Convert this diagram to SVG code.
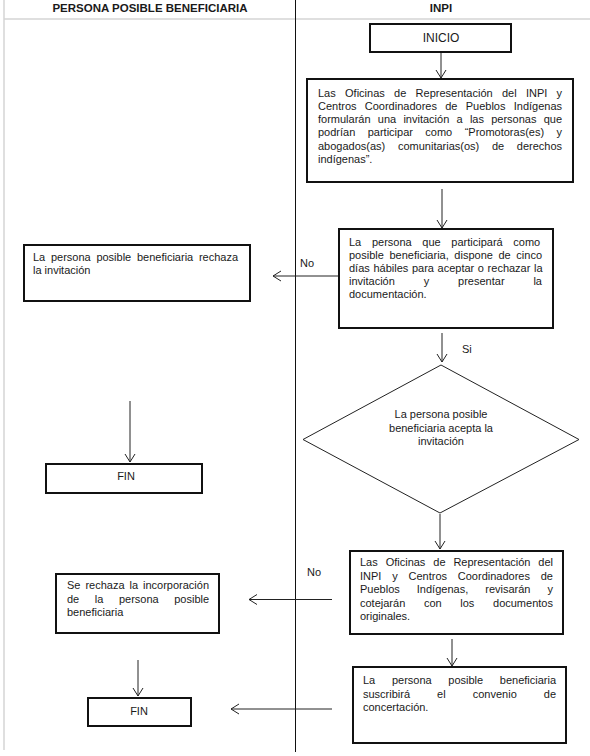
<svg xmlns="http://www.w3.org/2000/svg" width="590" height="756" viewBox="0 0 590 756">
<style>
  text { font-family: "Liberation Sans", Arial, sans-serif; font-size: 11px; fill: #1a1a1a; }
  .hdr { font-weight: bold; font-size: 11.5px; text-anchor: middle; }
  .mid { text-anchor: middle; }
  .box { fill: #ffffff; stroke: #111111; stroke-width: 2; }
  .dia { fill: #ffffff; stroke: #222222; stroke-width: 1; }
  .grid { stroke: #d4d4d4; stroke-width: 1.5; fill: none; }
  .div { stroke: #111111; stroke-width: 1; fill: none; }
  .conn line { stroke: #222222; stroke-width: 1; marker-end: url(#arr); }
</style>
<defs>
  <marker id="arr" markerUnits="userSpaceOnUse" markerWidth="12" markerHeight="12" refX="9" refY="6" orient="auto">
    <path d="M1,1 L9,6 L1,11" fill="none" stroke="#222222" stroke-width="1"/>
  </marker>
</defs>
<rect x="0" y="0" width="590" height="756" fill="#ffffff"/>
<g id="table">
  <line class="grid" x1="4" y1="0" x2="4" y2="750"/>
  <line class="grid" x1="4" y1="19" x2="590" y2="19"/>
  <line class="div" x1="295.5" y1="0" x2="295.5" y2="752"/>
  <text class="hdr" x="150" y="12">PERSONA POSIBLE BENEFICIARIA</text>
  <text class="hdr" x="441" y="12">INPI</text>
</g>
<g id="inicio">
  <rect class="box" x="370" y="24" width="141" height="28"/>
  <text class="mid" x="441" y="42" style="font-size:12px">INICIO</text>
</g>
<g id="invitacion">
  <rect class="box" x="307" y="79" width="266" height="103"/>
  <text x="318" y="96.5" word-spacing="6.24">Las Oficinas de Representación del INPI y</text>
  <text x="318" y="109.8" word-spacing="5.21">Centros Coordinadores de Pueblos Indígenas</text>
  <text x="318" y="123.1" word-spacing="4.19">formularán una invitación a las personas que</text>
  <text x="318" y="136.4" word-spacing="9.34">podrían participar como “Promotoras(es) y</text>
  <text x="318" y="149.7" word-spacing="9.6">abogados(as) comunitarias(os) de derechos</text>
  <text x="318" y="163">indígenas”.</text>
</g>
<g id="plazo">
  <rect class="box" x="339" y="229" width="214" height="99"/>
  <text x="349" y="246" word-spacing="7.6">La persona que participará como</text>
  <text x="349" y="259" word-spacing="2.54">posible beneficiaria, dispone de cinco</text>
  <text x="349" y="272" word-spacing="0.57">días hábiles para aceptar o rechazar la</text>
  <text x="349" y="285" word-spacing="25.8">invitación y presentar la</text>
  <text x="349" y="298">documentación.</text>
</g>
<g id="rechaza">
  <rect class="box" x="24" y="245" width="226" height="56"/>
  <text x="33" y="260.5" word-spacing="2.64">La persona posible beneficiaria rechaza</text>
  <text x="33" y="273.5">la invitación</text>
</g>
<g id="fin1">
  <rect class="box" x="46" y="464" width="156" height="29"/>
  <text class="mid" x="126" y="480">FIN</text>
</g>
<g id="decision">
  <polygon class="dia" points="441,365 579,439.5 440,513 303,439.5"/>
  <text class="mid" x="441" y="418">La persona posible</text>
  <text class="mid" x="441" y="431.5">beneficiaria acepta la</text>
  <text class="mid" x="441" y="445">invitación</text>
</g>
<g id="revision">
  <rect class="box" x="350" y="551" width="213" height="83"/>
  <text x="360" y="566" word-spacing="4.84">Las Oficinas de Representación del</text>
  <text x="360" y="579.5" word-spacing="7.74">INPI y Centros Coordinadores de</text>
  <text x="360" y="593" word-spacing="14">Pueblos Indígenas, revisarán y</text>
  <text x="360" y="606.5" word-spacing="15.6">cotejarán con los documentos</text>
  <text x="360" y="620">originales.</text>
</g>
<g id="rechazo-incorporacion">
  <rect class="box" x="56" y="574" width="163" height="59"/>
  <text x="67" y="589" word-spacing="1.88">Se rechaza la incorporación</text>
  <text x="67" y="602.5" word-spacing="12.5">de la persona posible</text>
  <text x="67" y="616">beneficiaria</text>
</g>
<g id="convenio">
  <rect class="box" x="353" y="667" width="213" height="76"/>
  <text x="363" y="684" word-spacing="13.6">La persona posible beneficiaria</text>
  <text x="363" y="697.5" word-spacing="24">suscribirá el convenio de</text>
  <text x="363" y="710.5">concertación.</text>
</g>
<g id="fin2">
  <rect class="box" x="88" y="698" width="103" height="28"/>
  <text class="mid" x="139" y="714.5">FIN</text>
</g>
<g id="connectors" class="conn">
  <line x1="441" y1="53" x2="441" y2="78"/>
  <line x1="442" y1="189" x2="442" y2="228"/>
  <line x1="338" y1="276" x2="273" y2="276"/>
  <line x1="442" y1="333" x2="442" y2="362"/>
  <line x1="130" y1="401" x2="130" y2="462"/>
  <line x1="440" y1="514" x2="440" y2="549"/>
  <line x1="332" y1="599.5" x2="249" y2="599.5"/>
  <line x1="452" y1="639" x2="452" y2="666"/>
  <line x1="138" y1="660" x2="138" y2="696"/>
  <line x1="332" y1="709" x2="231" y2="709"/>
</g>
<g id="labels">
  <text x="300" y="267">No</text>
  <text x="462" y="353">Si</text>
  <text x="307" y="575.5">No</text>
</g>
</svg>
